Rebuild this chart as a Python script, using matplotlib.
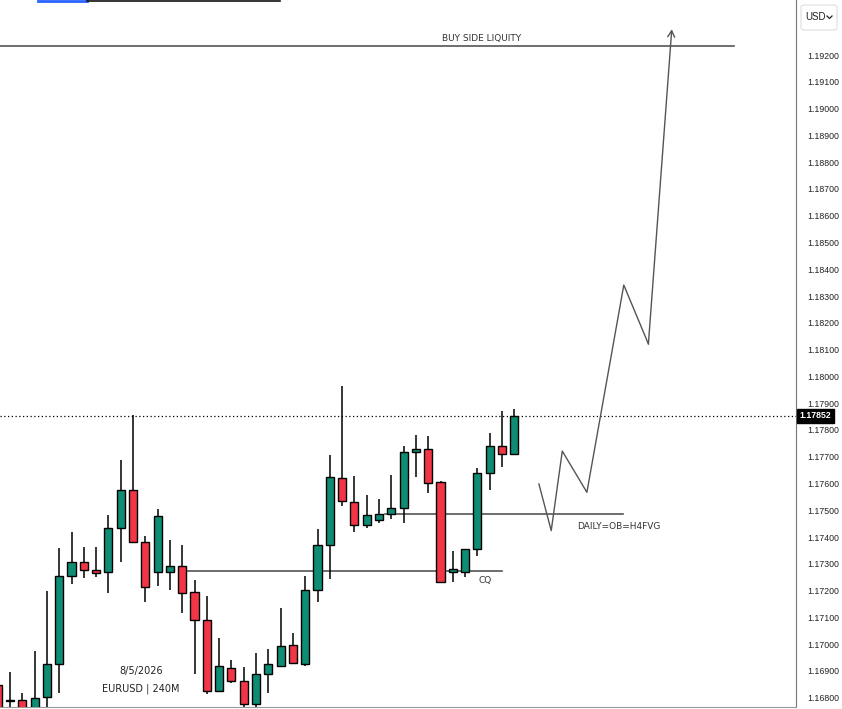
import matplotlib
matplotlib.use("Agg")
from matplotlib import pyplot as plt
from matplotlib.patches import Rectangle, FancyBboxPatch
from matplotlib.lines import Line2D

# EURUSD 4H candles
opens = [1.16848, 1.16789, 1.16792, 1.16740, 1.16802, 1.16925, 1.17255, 1.17306, 1.17276, 1.17268,
         1.17434, 1.17576, 1.17380, 1.17268, 1.17268, 1.17291, 1.17194, 1.17089, 1.16824, 1.16910,
         1.16862, 1.16777, 1.16888, 1.16920, 1.16996, 1.16925, 1.17202, 1.17370, 1.17619, 1.17532,
         1.17444, 1.17464, 1.17486, 1.17507, 1.17718, 1.17728, 1.17604, 1.17268, 1.17268, 1.17354,
         1.17638, 1.17740, 1.17709]
highs = [1.16855, 1.16897, 1.16819, 1.16976, 1.17199, 1.17360, 1.17419, 1.17364, 1.17364, 1.17482,
         1.17688, 1.17856, 1.17404, 1.17504, 1.17389, 1.17370, 1.17240, 1.17180, 1.17024, 1.16941,
         1.16916, 1.16968, 1.16981, 1.17136, 1.17041, 1.17255, 1.17430, 1.17706, 1.17964, 1.17628,
         1.17557, 1.17542, 1.17632, 1.17740, 1.17781, 1.17777, 1.17609, 1.17348, 1.17354, 1.17657,
         1.17790, 1.17871, 1.17877]
lows = [1.16730, 1.16730, 1.16730, 1.16730, 1.16765, 1.16819, 1.17224, 1.17246, 1.17252, 1.17190,
        1.17308, 1.17380, 1.17159, 1.17218, 1.17202, 1.17115, 1.16889, 1.16814, 1.16821, 1.16854,
        1.16767, 1.16767, 1.16817, 1.16916, 1.16925, 1.16918, 1.17159, 1.17243, 1.17516, 1.17420,
        1.17433, 1.17454, 1.17466, 1.17451, 1.17625, 1.17566, 1.17227, 1.17233, 1.17250, 1.17330,
        1.17576, 1.17663, 1.17709]
closes = [1.16747, 1.16789, 1.16740, 1.16799, 1.16926, 1.17255, 1.17306, 1.17276, 1.17267, 1.17434,
          1.17576, 1.17380, 1.17212, 1.17477, 1.17291, 1.17190, 1.17089, 1.16824, 1.16917, 1.16862,
          1.16777, 1.16889, 1.16925, 1.16993, 1.16929, 1.17202, 1.17370, 1.17623, 1.17535, 1.17444,
          1.17481, 1.17485, 1.17507, 1.17718, 1.17728, 1.17601, 1.17233, 1.17280, 1.17354, 1.17638,
          1.17740, 1.17709, 1.17852]

last_price = 1.17852
buy_side = 1.19234
cq_level = 1.17272
daily_level = 1.17485

# projected path (candle index, price)
path_x = [44.0, 45.0, 45.9, 47.9, 50.9, 52.9, 54.8]
path_y = [1.17598, 1.17424, 1.17721, 1.17567, 1.18341, 1.18121, 1.19296]

price_ticks = [1.168 + 0.001 * k for k in range(25)]

green = "#0f8c74"
red = "#f23645"

fig = plt.figure(figsize=(8.42, 7.09), dpi=100)
ax = fig.add_axes([0, 2 / 709, 796 / 842, 707 / 709])

w = 0.66
for i in range(len(opens)):
    o, h, l, c = opens[i], highs[i], lows[i], closes[i]
    if c == o:
        col = "black"
    elif c > o:
        col = green
    else:
        col = red
    ax.plot([i, i], [l, h], color="black", lw=1.1, zorder=2, solid_capstyle="butt")
    ax.add_patch(Rectangle((i - w / 2, min(o, c)), w, max(abs(c - o), 0.00003),
                           facecolor=col, edgecolor="black", lw=1.0, zorder=3))

# levels
ax.plot([-1, 59.86], [buy_side, buy_side], color="#555555", lw=1.2, zorder=1)
ax.plot([15, 41], [cq_level, cq_level], color="#555555", lw=1.2, zorder=1)
ax.plot([31.5, 50.8], [daily_level, daily_level], color="#555555", lw=1.2, zorder=1)
ax.axhline(last_price, color="black", lw=0.9, ls=(0, (1, 2)), zorder=1)

# projected path with open arrow head
ax.plot(path_x[:-1], path_y[:-1], color="#555555", lw=1.0, zorder=4)
ax.annotate("", xy=(path_x[-1], path_y[-1]), xytext=(path_x[-2], path_y[-2]),
            arrowprops=dict(arrowstyle="->,head_length=0.45,head_width=0.25",
                            color="#555555", lw=1.0, shrinkA=0, shrinkB=0), zorder=4)

txt = dict(fontsize=6.5, color="#333333", family="DejaVu Sans")
ax.text(39.3, 1.19263, "BUY SIDE LIQUITY", ha="center", va="center", **txt)
ax.text(47.1, 1.17441, "DAILY=OB=H4FVG", ha="left", va="center", **txt)
ax.text(39.1, 1.17236, "CQ", ha="left", va="center", **txt)
ax.text(11.65, 1.16900, "8/5/2026", ha="center", va="center", fontsize=7, color="#222222")
ax.text(11.65, 1.16833, "EURUSD | 240M", ha="center", va="center", fontsize=7, color="#222222")

ax.set_xlim(0.187, 64.9)
ax.set_ylim(1.167653, 1.194054)
ax.set_xticks([])
ax.yaxis.tick_right()
ax.set_yticks(price_ticks)
ax.set_yticklabels(["%.5f" % p for p in price_ticks])
ax.tick_params(axis="y", length=0, pad=8, labelsize=6.3, labelcolor="#222222")
for lab in ax.get_yticklabels():
    lab.set_family("Liberation Sans")
for s in ["top", "left"]:
    ax.spines[s].set_visible(False)
ax.spines["right"].set_color("#777777")
ax.spines["bottom"].set_color("#999999")

# last price label
ax.text(1.004, last_price, "1.17852", transform=ax.get_yaxis_transform(),
        ha="left", va="center", fontsize=6.3, color="white", fontweight="bold",
        family="Liberation Sans",
        bbox=dict(boxstyle="square,pad=0.3", facecolor="black", edgecolor="black"))

# currency button
fig.patches.append(FancyBboxPatch((801 / 842, 1 - 30 / 709), 36 / 842, 25 / 709,
                                  boxstyle="round,pad=0,rounding_size=0.004",
                                  transform=fig.transFigure, facecolor="white",
                                  edgecolor="#dddddd", lw=0.8))
fig.text(805 / 842, 1 - 17 / 709, "USD", fontsize=7, color="#222222", va="center",
         family="Liberation Sans")
fig.lines.append(Line2D([827 / 842, 829.5 / 842, 832 / 842],
                        [1 - 16 / 709, 1 - 18.5 / 709, 1 - 16 / 709],
                        transform=fig.transFigure, color="#222222", lw=0.9))

# cut-off toolbar strip at the top
fig.lines.append(Line2D([38 / 842, 87 / 842], [1 - 0.5 / 709, 1 - 0.5 / 709],
                        transform=fig.transFigure, color="#2962ff", lw=2))
fig.lines.append(Line2D([87 / 842, 280 / 842], [1 - 0.5 / 709, 1 - 0.5 / 709],
                        transform=fig.transFigure, color="#111111", lw=1.2))

fig.savefig("out.png", dpi=100)
